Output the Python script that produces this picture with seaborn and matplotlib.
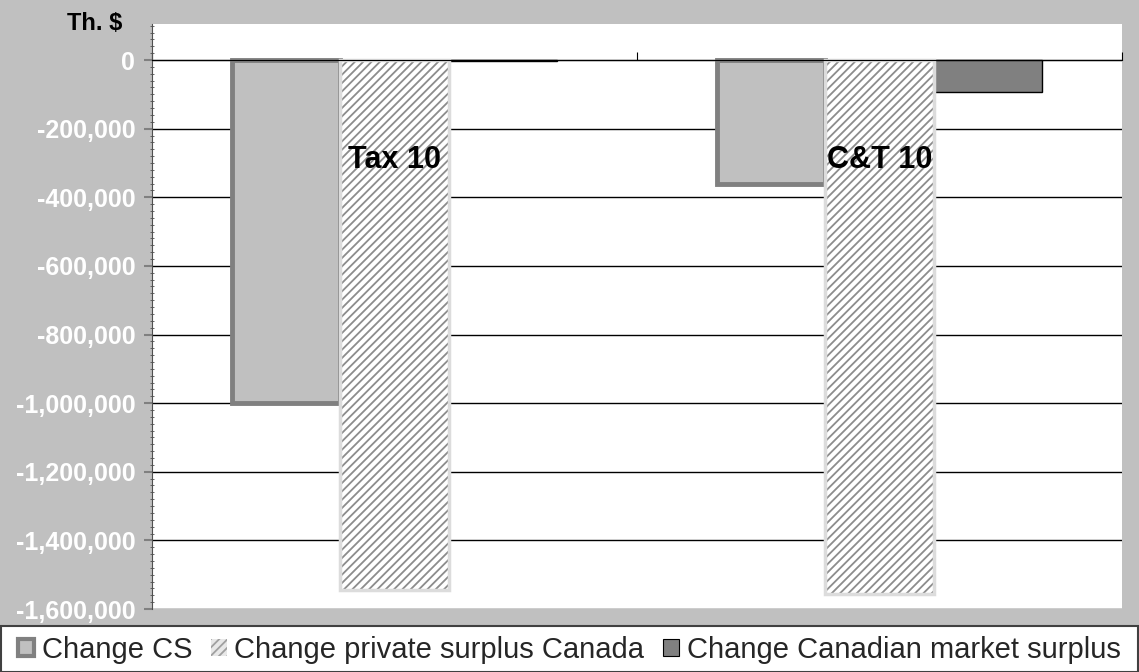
import numpy as np
import pandas as pd
import matplotlib
matplotlib.use('Agg')
import matplotlib.pyplot as plt
import seaborn as sns
from matplotlib.patches import Patch, Rectangle
from matplotlib.ticker import MultipleLocator, FuncFormatter

# data (thousand $)
scenarios = ['Tax 10', 'C&T 10']
series = ['Change CS', 'Change private surplus Canada', 'Change Canadian market surplus']
change_cs = [-1000000, -360000]
change_private = [-1546000, -1555000]
change_market = [-4000, -94000]

df = pd.DataFrame({
    'scenario': scenarios * 3,
    'series': [series[0]] * 2 + [series[1]] * 2 + [series[2]] * 2,
    'value': change_cs + change_private + change_market,
})

sns.set_style('white')
plt.rcParams['font.family'] = ['Liberation Sans', 'DejaVu Sans']
plt.rcParams['hatch.linewidth'] = 1.3

W, H = 1139, 672
fig = plt.figure(figsize=(W / 100, H / 100), dpi=100, facecolor='#c0c0c0')
ax = fig.add_axes([152 / W, 1 - 609 / H, (1122 - 152) / W, (609 - 24) / H])
ax.set_facecolor('white')

ax = sns.barplot(data=df, x='scenario', y='value', hue='series', order=scenarios,
                 hue_order=series, palette=['#c0c0c0', 'white', '#808080'],
                 saturation=1, width=0.67, legend=False, ax=ax)

# style each series like the original spreadsheet chart
for bar in ax.containers[0]:
    bar.set_edgecolor('#808080')
    bar.set_linewidth(3.5)
    bar.set_zorder(3)
for bar in ax.containers[1]:
    bar.set_facecolor('white')
    bar.set_edgecolor('#8c8c8c')
    bar.set_hatch('////')
    bar.set_linewidth(0)
    bar.set_zorder(3)
    ax.add_patch(Rectangle((bar.get_x(), bar.get_y()), bar.get_width(), bar.get_height(),
                           fill=False, edgecolor='#dcdcdc', linewidth=2.5, zorder=3.5))
for bar in ax.containers[2]:
    bar.set_edgecolor('black')
    bar.set_linewidth(1)
    bar.set_zorder(3)

ax.set_xlim(-0.5, 1.5)
ax.set_ylim(-1600000, 105000)
ax.set_axisbelow(True)
ax.yaxis.set_major_locator(MultipleLocator(200000))
ax.yaxis.set_minor_locator(MultipleLocator(20000))
ax.yaxis.set_major_formatter(FuncFormatter(lambda v, p: f'{v:,.0f}'))
ax.grid(axis='y', color='black', linewidth=1)
ax.grid(axis='x', visible=False)

for s in ['top', 'right']:
    ax.spines[s].set_visible(False)
ax.spines['left'].set_color('#505050')
ax.spines['left'].set_zorder(5)
ax.spines['bottom'].set_position(('data', 0))
ax.spines['bottom'].set_color('black')
ax.spines['bottom'].set_zorder(5)

ax.set_xticks([-0.5, 0.5, 1.5])
ax.set_xticklabels([])
ax.tick_params(axis='x', direction='in', length=6, color='black', bottom=True)
ax.tick_params(axis='y', which='major', direction='out', length=6, width=1.5, color='#808080',
               left=True, labelsize=18, labelcolor='white', pad=6)
ax.tick_params(axis='y', which='minor', direction='inout', length=3, color='#505050', left=True)
for lbl in ax.get_yticklabels():
    lbl.set_fontweight('bold')
ax.set_xlabel('')
ax.set_ylabel('')

# category names sit inside the plot
for i, name in enumerate(scenarios):
    ax.text(i, -292000, name, ha='center', va='center', fontsize=22,
            fontweight='bold', color='black', zorder=6)

fig.text(95 / W, 1 - 24 / H, 'Th. $', ha='center', va='center', fontsize=17,
         fontweight='bold', color='black')

# legend strip at the bottom
fig.patches.append(Rectangle((0.001, 0), 0.998, 46 / H, transform=fig.transFigure,
                             facecolor='white', edgecolor='#404040', linewidth=1.5))
handles = [
    Patch(facecolor='#c0c0c0', edgecolor='#808080', linewidth=3),
    Patch(facecolor='#e8e8e8', edgecolor='#a0a0a0', hatch='////', linewidth=0),
    Patch(facecolor='#808080', edgecolor='black', linewidth=0.8),
]
fig.legend(handles, series, loc='center', bbox_to_anchor=(0.5, 22 / H), ncol=3,
           frameon=False, fontsize=21, handlelength=0.55, handleheight=0.55,
           handletextpad=0.25, columnspacing=0.65, borderaxespad=0)

fig.savefig('out.png', dpi=100, facecolor=fig.get_facecolor())
